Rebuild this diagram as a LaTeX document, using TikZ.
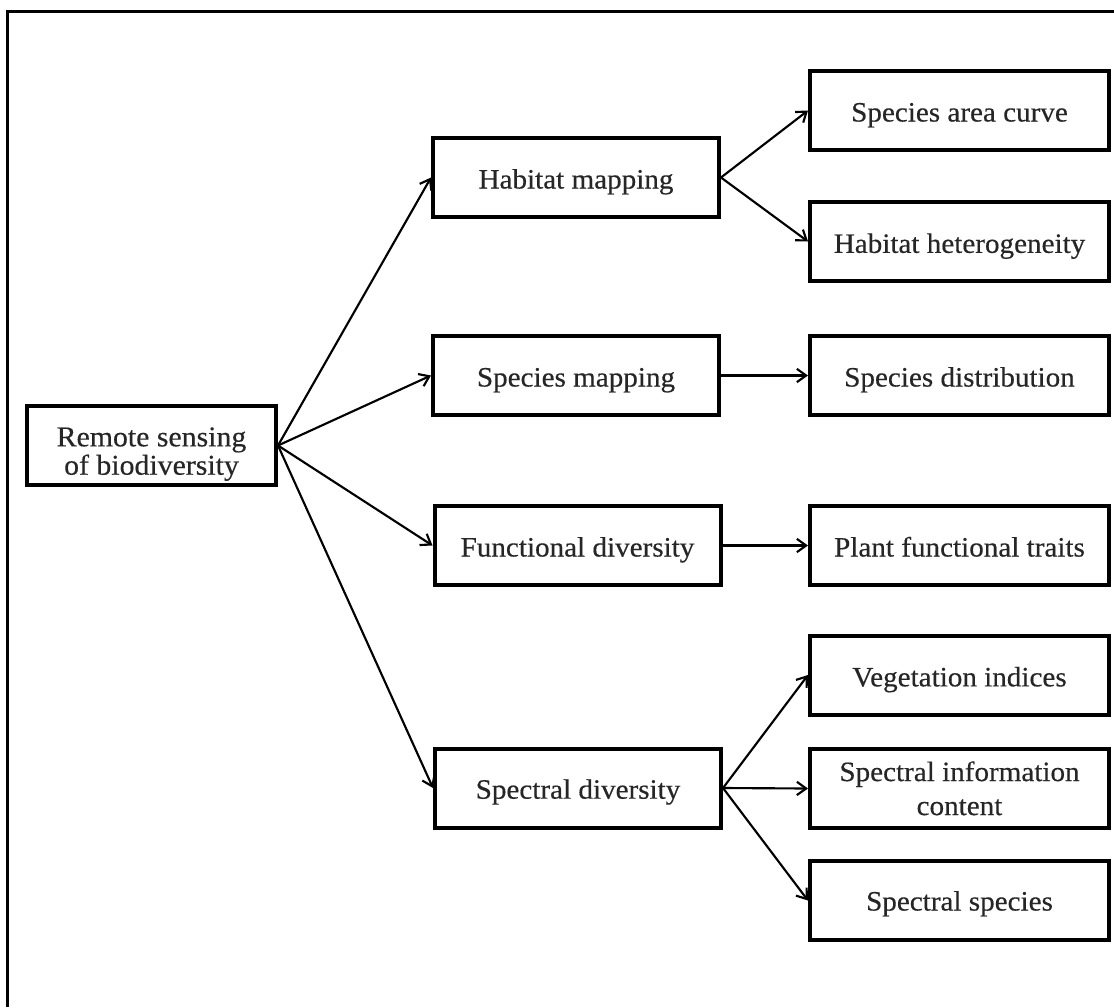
\documentclass[tikz,border=0pt]{standalone}
\usepackage{fontspec}
\setmainfont{Liberation Serif}[FakeStretch=1.04,FakeBold=0.4]
\usetikzlibrary{arrows.meta}
\newcommand{\boxtext}[2]{\raisebox{#1}[0pt][0pt]{\begin{tabular}[t]{@{}c@{}}#2\end{tabular}}}
\begin{document}
\begin{tikzpicture}[x=0.75pt,y=-0.75pt,
  box/.style={draw, line width=3pt, inner sep=0pt, text=black!85,
    font=\fontsize{21}{21}\selectfont},
  midbox/.style={box, minimum width=214.5pt, minimum height=59.25pt},
  rightbox/.style={box, minimum width=224.25pt, minimum height=59.25pt},
  rootbox/.style={box, minimum width=186.75pt, minimum height=59.25pt,
    font=\fontsize{21.5}{20.5}\selectfont},
  conn/.style={line width=1.6pt, -{Straight Barb[length=7pt,width=10pt,line width=1.6pt]}},
  frame/.style={line width=2.25pt}]
\useasboundingbox (0,0) rectangle (1114,1007);
\draw[frame] (7.5,1007) -- (7.5,11) -- (1114,11);

\node[rootbox] (root) at (151.5,445.5) {\boxtext{-0.6pt}{Remote sensing\\of biodiversity}};

\node[midbox] (hab) at (576,177.5) {\boxtext{-8.25pt}{Habitat mapping}};
\node[midbox] (spm) at (576,375.5) {\boxtext{-8.25pt}{Species mapping}};
\node[midbox] (fun) at (577.5,545.5) {\boxtext{-8.25pt}{Functional diversity}};
\node[midbox] (spd) at (578,788) {\boxtext{-8pt}{Spectral diversity}};

\node[rightbox] (sac) at (959.5,110.5) {\boxtext{-8.25pt}{Species area curve}};
\node[rightbox] (hh) at (959.5,241.5) {\boxtext{-8.5pt}{Habitat heterogeneity}};
\node[rightbox] (sd) at (959.5,375.5) {\boxtext{-8.25pt}{Species distribution}};
\node[rightbox] (pft) at (959.5,545.5) {\boxtext{-8.25pt}{Plant functional traits}};
\node[rightbox] (vi) at (959.5,675) {\boxtext{-8.5pt}{Vegetation indices}};
\node[rightbox, font=\fontsize{21}{25.5}\selectfont] (sic) at (959.5,788.5) {\boxtext{5.6pt}{Spectral information\\content}};
\node[rightbox] (ss) at (959.5,900.5) {\boxtext{-7.5pt}{Spectral species}};

\draw[conn] (root.east) -- (hab.west);
\draw[conn] (root.east) -- (spm.west);
\draw[conn] (root.east) -- (fun.west);
\draw[conn] (root.east) -- (spd.west);

\draw[conn] (hab.east) -- (sac.west);
\draw[conn] (hab.east) -- (hh.west);
\draw[conn] (spm.east) -- (sd.west);
\draw[conn] (fun.east) -- (pft.west);
\draw[conn] (spd.east) -- (vi.west);
\draw[conn] (spd.east) -- (sic.west);
\draw[conn] (spd.east) -- (ss.west);
\end{tikzpicture}
\end{document}
